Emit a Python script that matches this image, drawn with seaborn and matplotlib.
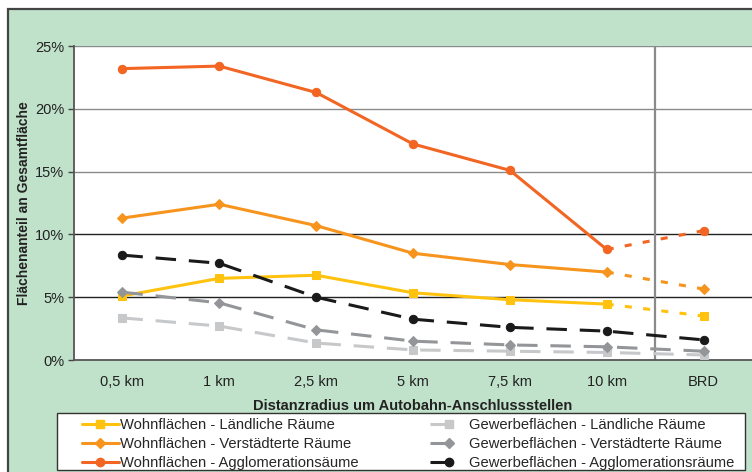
import matplotlib
matplotlib.use('Agg')
import matplotlib.pyplot as plt
import seaborn as sns
import pandas as pd
from matplotlib.lines import Line2D
from matplotlib.patches import Rectangle

# Data (values in %)
categories = ["0,5 km", "1 km", "2,5 km", "5 km", "7,5 km", "10 km", "BRD"]
y_ticks = [0, 5, 10, 15, 20, 25]

wohn_laendlich = [5.1, 6.5, 6.75, 5.35, 4.8, 4.45, 3.5]
wohn_verstaedtert = [11.3, 12.4, 10.7, 8.5, 7.6, 7.0, 5.65]
wohn_agglo = [23.2, 23.4, 21.3, 17.2, 15.1, 8.8, 10.3]
gewerbe_laendlich = [3.35, 2.7, 1.35, 0.8, 0.7, 0.6, 0.4]
gewerbe_verstaedtert = [5.4, 4.55, 2.4, 1.5, 1.2, 1.05, 0.7]
gewerbe_agglo = [8.35, 7.7, 5.0, 3.25, 2.6, 2.3, 1.6]

series = [
    ("Wohnflächen - Ländliche Räume", wohn_laendlich, "#FFC20E", "s", "wohn"),
    ("Wohnflächen - Verstädterte Räume", wohn_verstaedtert, "#F7941D", "D", "wohn"),
    ("Wohnflächen - Agglomerationsäume", wohn_agglo, "#F26522", "o", "wohn"),
    ("Gewerbeflächen - Ländliche Räume", gewerbe_laendlich, "#C7C8CA", "s", "gewerbe"),
    ("Gewerbeflächen - Verstädterte Räume", gewerbe_verstaedtert, "#939598", "D", "gewerbe"),
    ("Gewerbeflächen - Agglomerationsräume", gewerbe_agglo, "#1A1A1A", "o", "gewerbe"),
]

sns.set_style("white")
plt.rcParams['font.family'] = ['Liberation Sans', 'DejaVu Sans']

LW = 2.2
DOTS = (0, (2.3, 3.7))
DASH = (0, (6.7, 4.2))
msize = {"s": 6, "D": 4.8, "o": 6}

fig = plt.figure(figsize=(7.52, 4.72), dpi=100)
fig.patch.set_facecolor("white")
fig.patches.append(Rectangle((8 / 752, -0.05), 1.1, 1.05 - 9 / 472, transform=fig.transFigure,
                             facecolor="#C0E2CA", edgecolor="#444444", lw=1.6, zorder=-2))
fig.patches.append(Rectangle((57 / 752, 2 / 472), 688 / 752, 57 / 472, transform=fig.transFigure,
                             facecolor="white", edgecolor="#333333", lw=1.0, zorder=-1))

ax = fig.add_axes([74 / 752, 1 - 360 / 472, 1 - 74 / 752, 314 / 472])
ax.set_facecolor("white")

pos = list(range(len(categories)))
for label, vals, color, marker, kind in series:
    df = pd.DataFrame({"pos": pos, "wert": vals})
    ms = msize[marker]
    if kind == "wohn":
        sns.lineplot(data=df.iloc[:-1], x="pos", y="wert", color=color, lw=LW, marker=marker,
                     markersize=ms, markeredgecolor=color, ax=ax, zorder=3)
        sns.lineplot(data=df.iloc[-2:], x="pos", y="wert", color=color, lw=LW, linestyle=DOTS,
                     marker=marker, markevery=[1], markersize=ms, markeredgecolor=color, ax=ax, zorder=3)
    else:
        sns.lineplot(data=df, x="pos", y="wert", color=color, lw=LW, linestyle=DASH, marker=marker,
                     markersize=ms, markeredgecolor=color, ax=ax, zorder=4)

# grid lines
for t in y_ticks[1:]:
    ax.axhline(t, color="#222222" if t in (5, 10) else "#8A8A8A", lw=1.0, zorder=1)
ax.axvline(len(categories) - 1.5, color="#8A8A8A", lw=1.6, zorder=1)

ax.set_xlim(-0.5, len(categories) - 0.5)
ax.set_ylim(0, 25)
ax.set_xticks(pos, categories)
ax.set_xticks([p - 0.5 for p in pos[1:]], minor=True)
ax.set_yticks(y_ticks, [f"{t}%" for t in y_ticks])
ax.tick_params(axis="x", which="major", length=0, pad=11, labelsize=10.5, labelcolor="#222222")
ax.tick_params(axis="x", which="minor", length=4, width=1, color="#444444", direction="out")
ax.tick_params(axis="y", length=4, width=1, color="#444444", direction="out", pad=3,
               labelsize=10.5, labelcolor="#222222", left=True)

for s in ["top", "right"]:
    ax.spines[s].set_visible(False)
for s in ["left", "bottom"]:
    ax.spines[s].set_color("#555555")
    ax.spines[s].set_linewidth(1.3)

ax.set_xlabel("Distanzradius um Autobahn-Anschlussstellen", fontsize=10.5, fontweight="bold", color="#222222")
ax.set_ylabel("Flächenanteil an Gesamtfläche", fontsize=10, fontweight="bold", color="#222222")
ax.xaxis.set_label_coords(0.5, -0.125)
ax.yaxis.set_label_coords(-0.064, 0.5)

# legend
handles = []
for label, vals, color, marker, kind in series:
    if kind == "wohn":
        h = Line2D([], [], color=color, lw=LW, marker=marker, markersize=msize[marker], markeredgecolor=color)
    else:
        h = Line2D([], [], color=color, lw=LW, linestyle=(0, (7.5, 20)), marker=marker,
                   markersize=msize[marker], markeredgecolor=color)
    handles.append(h)
fig.legend(handles, [s[0] for s in series], ncol=2, frameon=False, loc="upper left",
           bbox_to_anchor=(82 / 752, 1 - 418 / 472), borderpad=0, borderaxespad=0,
           handlelength=2.5, handletextpad=0.1, columnspacing=4.85, labelspacing=0.33,
           fontsize=10.6)

fig.savefig("out.png", dpi=100)
